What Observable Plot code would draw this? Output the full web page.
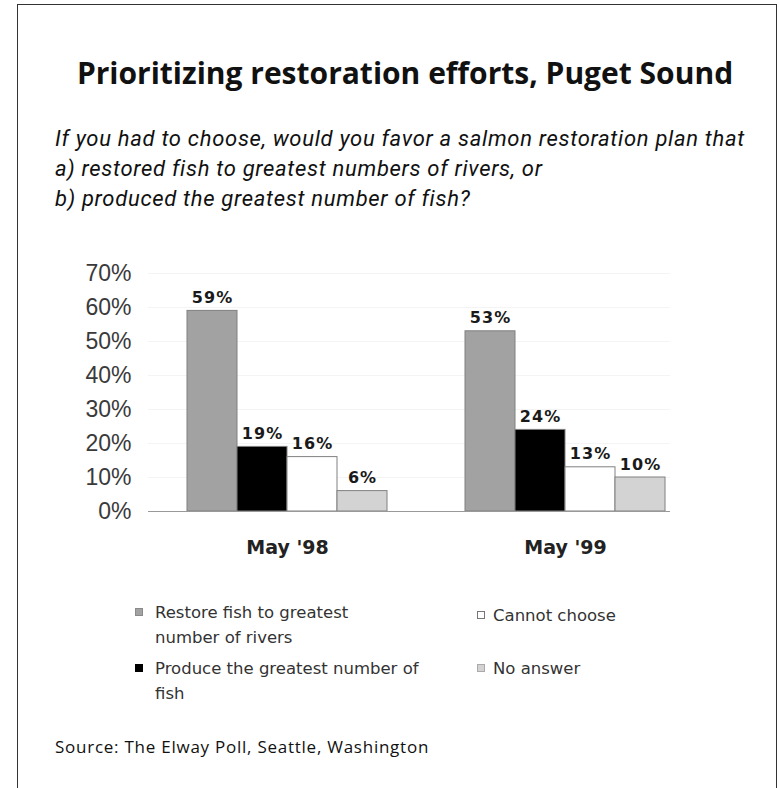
<!DOCTYPE html>
<html>
<head>
<meta charset="utf-8">
<script src="https://cdn.jsdelivr.net/npm/d3@7"></script>
<script src="https://cdn.jsdelivr.net/npm/@observablehq/plot@0.6"></script>
<style>
  html, body { margin: 0; padding: 0; background: #fff; }
  #page { position: relative; width: 780px; height: 788px; overflow: hidden; background: #fff; }
  #frame { position: absolute; left: 17px; top: 4px; width: 760px; height: 820px; border: 1px solid #333; border-bottom: none; box-sizing: border-box; }
  #title { position: absolute; left: 17px; width: 776px; top: 54px; text-align: center; font-family: "Open Sans", sans-serif; font-weight: 700; font-size: 30px; line-height: 38px; color: #111; white-space: nowrap; }
  #subtitle { position: absolute; left: 55px; top: 124px; font-family: Roboto, sans-serif; font-style: italic; font-size: 22px; letter-spacing: 0.7px; line-height: 30px; color: #111; white-space: nowrap; }
  #chart { position: absolute; left: 0; top: 250px; width: 670px; height: 320px; overflow: hidden; }
  #chart svg { max-width: none !important; }
  #chart svg g[aria-label="text"] text { letter-spacing: 1px; }
  #legend { position: absolute; left: 0; top: 0; width: 780px; font-family: "DejaVu Sans", sans-serif; font-size: 16.5px; line-height: 25px; color: #333; }
  .item { position: absolute; white-space: nowrap; }
  .sw { position: absolute; width: 8px; height: 8px; box-sizing: border-box; border: 1px solid #888; }
  #source { position: absolute; left: 55px; top: 735px; font-family: "Open Sans", sans-serif; font-size: 17px; letter-spacing: 0.75px; color: #111; white-space: nowrap; }
</style>
</head>
<body>
<div id="page">
  <div id="frame"></div>
  <div id="title"></div>
  <div id="subtitle"></div>
  <div id="chart"></div>
  <div id="legend"></div>
  <div id="source"></div>
</div>
<script>
const titleText = "Prioritizing restoration efforts, Puget Sound";
const subtitleLines = [
  "If you had to choose, would you favor a salmon restoration plan that",
  "a) restored fish to greatest numbers of rivers, or",
  "b) produced the greatest number of fish?"
];
const sourceText = "Source: The Elway Poll, Seattle, Washington";

const periods = ["May '98", "May '99"];
const responses = [
  "Restore fish to greatest number of rivers",
  "Produce the greatest number of fish",
  "Cannot choose",
  "No answer"
];
const legendLines = [
  ["Restore fish to greatest", "number of rivers"],
  ["Produce the greatest number of", "fish"],
  ["Cannot choose"],
  ["No answer"]
];
const may98 = [59, 19, 16, 6];
const may99 = [53, 24, 13, 10];
const yTicks = [0, 10, 20, 30, 40, 50, 60, 70];
const shades = ["#a2a2a2", "#000000", "#ffffff", "#d3d3d3"];

const data = [];
responses.forEach((r, i) => data.push({period: periods[0], response: r, value: may98[i]}));
responses.forEach((r, i) => data.push({period: periods[1], response: r, value: may99[i]}));

document.getElementById("title").textContent = titleText;
document.getElementById("subtitle").innerHTML = subtitleLines.map(s => `<div>${s}</div>`).join("");
document.getElementById("source").textContent = sourceText;

const chart = Plot.plot({
  width: 704,
  height: 310,
  marginLeft: 148,
  marginRight: 0,
  marginTop: 23,
  marginBottom: 49,
  style: {fontFamily: "'Liberation Sans', Arial, sans-serif", color: "#333", background: "transparent"},
  fx: {domain: periods, padding: 0, label: null},
  x: {domain: responses, paddingInner: 0, paddingOuter: 0.739, axis: null},
  y: {domain: [0, 70], label: null},
  color: {domain: responses, range: shades},
  marks: [
    Plot.gridY(yTicks, {stroke: "#000", strokeOpacity: 0.045}),
    Plot.axisY(yTicks, {tickFormat: d => d + "%", tickSize: 0, tickPadding: 17, fontSize: 23, label: null, line: true, stroke: "#999", fill: "#3a3a3a"}),
    Plot.axisFx({anchor: "bottom", tickSize: 0, tickPadding: 29, fontSize: 19, fontWeight: "bold", fontFamily: "DejaVu Sans", fill: "#222", label: null}),
    Plot.barY(data, {fx: "period", x: "response", y: "value", fill: "response", stroke: "#808080", strokeWidth: 1}),
    Plot.ruleY([0], {stroke: "#999"}),
    Plot.text(data, {fx: "period", x: "response", y: "value", text: d => d.value + "%", dy: -8, lineAnchor: "bottom", fontSize: 16, fontWeight: "bold", fontFamily: "DejaVu Sans", fill: "#1a1a1a"})
  ]
});
document.getElementById("chart").appendChild(chart);

// legend
const legend = document.getElementById("legend");
const legendPos = [
  {sx: 135, tx: 155, y: 600},
  {sx: 135, tx: 155, y: 656},
  {sx: 477, tx: 493, y: 603},
  {sx: 477, tx: 493, y: 656}
];
const swBorders = ["#8a8a8a", "#000", "#777", "#aaa"];
responses.forEach((r, i) => {
  const p = legendPos[i];
  const sw = document.createElement("div");
  sw.className = "sw";
  sw.style.left = p.sx + "px";
  sw.style.top = (p.y + 8) + "px";
  sw.style.background = shades[i];
  sw.style.borderColor = swBorders[i];
  legend.appendChild(sw);
  const t = document.createElement("div");
  t.className = "item";
  t.style.left = p.tx + "px";
  t.style.top = p.y + "px";
  t.innerHTML = legendLines[i].join("<br>");
  legend.appendChild(t);
});
</script>
</body>
</html>
